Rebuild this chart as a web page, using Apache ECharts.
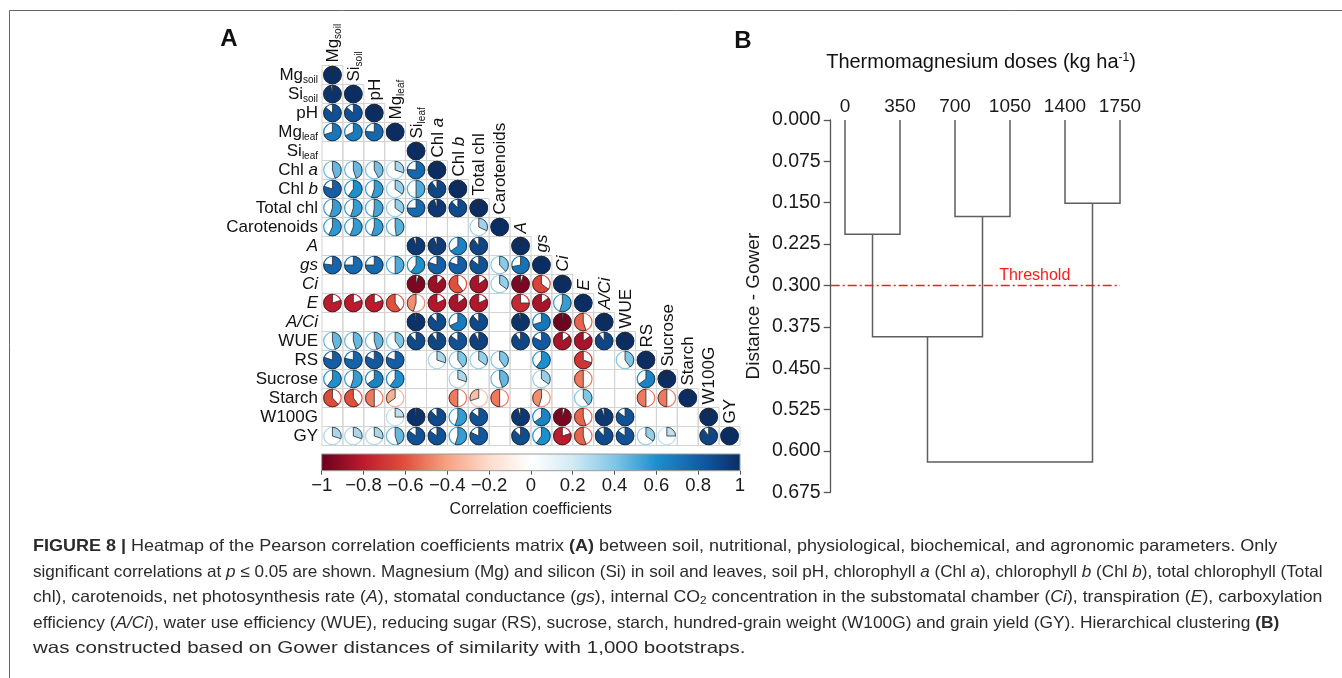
<!DOCTYPE html>
<html>
<head>
<meta charset="utf-8">
<script src="https://cdn.jsdelivr.net/npm/echarts@6/dist/echarts.min.js"></script>
<style>
  html, body { margin: 0; padding: 0; background: #ffffff; }
  #chart { width: 1342px; height: 678px; }
</style>
</head>
<body>
<div id="chart"></div>
<script>
// ---- Panel A: variables of the correlation matrix ----
const varNames = ['Mg_soil', 'Si_soil', 'pH', 'Mg_leaf', 'Si_leaf', 'Chl a', 'Chl b', 'Total chl',
  'Carotenoids', 'A', 'gs', 'Ci', 'E', 'A/Ci', 'WUE', 'RS', 'Sucrose', 'Starch', 'W100G', 'GY'];

// rich-text versions of the names (subscripts / italics)
const varLabels = ['{n|Mg}{s|soil}', '{n|Si}{s|soil}', '{n|pH}', '{n|Mg}{s|leaf}', '{n|Si}{s|leaf}',
  '{n|Chl }{i|a}', '{n|Chl }{i|b}', '{n|Total chl}', '{n|Carotenoids}', '{i|A}', '{i|gs}', '{i|Ci}',
  '{i|E}', '{i|A/Ci}', '{n|WUE}', '{n|RS}', '{n|Sucrose}', '{n|Starch}', '{n|W100G}', '{n|GY}'];

// Pearson r, lower triangle row by row (null = not significant at p <= 0.05)
const corrMgSoil   = [1];
const corrSiSoil   = [0.97, 1];
const corrPH       = [0.86, 0.86, 1];
const corrMgLeaf   = [0.70, 0.68, 0.76, 1];
const corrSiLeaf   = [null, null, null, null, 1];
const corrChlA     = [0.45, 0.45, 0.42, 0.30, 0.76, 1];
const corrChlB     = [0.80, 0.60, 0.55, 0.35, 0.50, 0.90, 1];
const corrTotalChl = [0.55, 0.55, 0.52, 0.35, 0.75, 0.95, 0.88, 1];
const corrCarot    = [0.57, 0.56, 0.55, 0.48, null, null, null, 0.32, 1];
const corrA        = [null, null, null, null, 0.95, 0.94, 0.65, 0.90, null, 1];
const corrGs       = [0.77, 0.75, 0.75, 0.50, 0.60, 0.80, 0.80, 0.85, 0.38, 0.72, 1];
const corrCi       = [null, null, null, null, -0.95, -0.88, -0.60, -0.85, 0.35, -0.95, -0.65, 1];
const corrE        = [-0.80, -0.80, -0.80, -0.60, -0.45, -0.82, -0.85, -0.82, null, -0.75, -0.85, 0.55, 1];
const corrACi      = [null, null, null, null, 0.98, 0.88, 0.68, 0.88, null, 0.97, 0.70, -0.98, -0.55, 1];
const corrWUE      = [0.45, 0.45, 0.45, 0.40, 0.88, 0.90, 0.85, 0.92, null, 0.90, 0.82, -0.85, -0.85, 0.90, 1];
const corrRS       = [0.80, 0.78, 0.82, 0.80, null, 0.30, 0.40, 0.35, 0.40, null, 0.60, null, -0.70, null, 0.40, 1];
const corrSucrose  = [0.60, 0.55, 0.65, 0.60, null, null, 0.30, null, 0.45, null, 0.35, null, -0.50, null, null, 0.65, 1];
const corrStarch   = [-0.62, -0.60, -0.50, -0.35, null, null, -0.50, -0.30, -0.50, null, -0.45, null, 0.40, null, null, -0.50, -0.50, 1];
const corrW100G    = [null, null, null, 0.25, 0.98, 0.88, 0.55, 0.85, null, 0.95, 0.65, -0.95, -0.55, 0.95, 0.85, null, null, null, 1];
const corrGY       = [0.30, 0.30, 0.30, 0.45, 0.85, 0.85, 0.55, 0.82, null, 0.87, 0.60, -0.80, -0.55, 0.88, 0.85, 0.35, 0.25, null, 0.90, 1];

const corrRows = [corrMgSoil, corrSiSoil, corrPH, corrMgLeaf, corrSiLeaf, corrChlA, corrChlB, corrTotalChl,
  corrCarot, corrA, corrGs, corrCi, corrE, corrACi, corrWUE, corrRS, corrSucrose, corrStarch, corrW100G, corrGY];

// diverging palette, -1 .. 1
const palette = ['#67001f', '#bd1a2d', '#e1503d', '#f6a283', '#fddccb', '#ffffff',
  '#d2eaf4', '#80c6e6', '#1d8fcc', '#135ea7', '#0a2d63'];

// ---- Panel B: hierarchical clustering of doses ----
const doseLabels = ['0', '350', '700', '1050', '1400', '1750'];
// merge steps: negative = leaf (1-based), positive = earlier merge step (1-based)
const mergeLeft   = [-5, -3, -1, 3, 4];
const mergeRight  = [-6, -4, -2, 2, 1];
const mergeHeight = [0.151, 0.175, 0.207, 0.393, 0.620];
const threshold = 0.3;

// ---- derived data ----
const gridCells = [];
const pieCells = [];
corrRows.forEach(function (row, r) {
  row.forEach(function (v, c) {
    gridCells.push([c, r]);
    if (v !== null) pieCells.push([c, r, v]);
  });
});
const diagCells = varNames.map(function (_, i) { return [i, i]; });

const nodeX = [], nodeH = [];
function childX(id) { return id < 0 ? (-id - 1) : nodeX[id - 1]; }
function childH(id) { return id < 0 ? 0 : nodeH[id - 1]; }
mergeLeft.forEach(function (a, k) {
  nodeX.push((childX(a) + childX(mergeRight[k])) / 2);
  nodeH.push(mergeHeight[k]);
});

const FONT = '"Liberation Sans", Arial, Helvetica, sans-serif';
const labelRich = {
  n: { fontSize: 17, fontFamily: FONT, color: '#111', lineHeight: 20 },
  i: { fontSize: 17, fontFamily: FONT, color: '#111', fontStyle: 'italic', lineHeight: 20 },
  s: { fontSize: 10, fontFamily: FONT, color: '#111', verticalAlign: 'bottom', lineHeight: 8 }
};

const chart = echarts.init(document.getElementById('chart'));

// ---- figure caption ----
const captionRich = {
  b: { fontWeight: 'bold', fontSize: 16.5, fontFamily: FONT, color: '#2b2b2b' },
  i: { fontStyle: 'italic', fontSize: 16.5, fontFamily: FONT, color: '#2b2b2b' },
  sub: { fontSize: 11, fontFamily: FONT, color: '#2b2b2b', verticalAlign: 'bottom', lineHeight: 10 }
};
const captionLines = [
  '{b|FIGURE 8 |} Heatmap of the Pearson correlation coefficients matrix {b|(A)} between soil, nutritional, physiological, biochemical, and agronomic parameters. Only',
  'significant correlations at {i|p} ≤ 0.05 are shown. Magnesium (Mg) and silicon (Si) in soil and leaves, soil pH, chlorophyll {i|a} (Chl {i|a}), chlorophyll {i|b} (Chl {i|b}), total chlorophyll (Total',
  'chl), carotenoids, net photosynthesis rate ({i|A}), stomatal conductance ({i|gs}), internal CO{sub|2} concentration in the substomatal chamber ({i|Ci}), transpiration ({i|E}), carboxylation',
  'efficiency ({i|A/Ci}), water use efficiency (WUE), reducing sugar (RS), sucrose, starch, hundred-grain weight (W100G) and grain yield (GY). Hierarchical clustering {b|(B)}',
  'was constructed based on Gower distances of similarity with 1,000 bootstraps.'
];
const captionY = [546.5, 572, 597.5, 623, 648.5];
const captionStretch = [1.091, 1.037, 1.071, 1.050, 1.245];

const graphics = [
  { type: 'line', shape: { x1: 9.5, y1: 10.5, x2: 1342, y2: 10.5 }, style: { stroke: '#666', lineWidth: 1 } },
  { type: 'line', shape: { x1: 9.5, y1: 10.5, x2: 9.5, y2: 678 }, style: { stroke: '#666', lineWidth: 1 } },
  { type: 'text', x: 229, y: 39, style: { text: 'A', font: 'bold 24px ' + FONT, fill: '#111', align: 'center', verticalAlign: 'middle' } },
  { type: 'text', x: 743, y: 41, style: { text: 'B', font: 'bold 24px ' + FONT, fill: '#111', align: 'center', verticalAlign: 'middle' } },
  { type: 'text', x: 981, y: 62, style: {
      text: 'Thermomagnesium doses (kg ha{sup|-1})', font: '20px ' + FONT, fill: '#111',
      align: 'center', verticalAlign: 'middle',
      rich: { sup: { fontSize: 12, fontFamily: FONT, color: '#111', verticalAlign: 'top', lineHeight: 10 } }
  } }
];
captionLines.forEach(function (t, k) {
  graphics.push({ type: 'text', x: 33, y: captionY[k], scaleX: captionStretch[k], style: {
    text: t, font: '16.5px ' + FONT, fill: '#2b2b2b', align: 'left', verticalAlign: 'middle', rich: captionRich
  } });
});

const option = {
  animation: false,
  backgroundColor: '#ffffff',
  grid: [
    { left: 322, top: 65.5, width: 418, height: 380 },
    { left: 830.7, top: 120, width: 316.8, height: 372.3 },
    { left: 321.7, top: 454, width: 418.3, height: 16.7 }
  ],
  xAxis: [
    { type: 'category', gridIndex: 0, data: varNames, axisLine: { show: false }, axisTick: { show: false }, axisLabel: { show: false }, splitLine: { show: false } },
    { type: 'value', gridIndex: 1, min: -0.26, max: 5.5, show: false },
    { type: 'value', gridIndex: 2, min: -1, max: 1, interval: 0.2, position: 'bottom',
      axisLine: { show: false }, splitLine: { show: false },
      axisTick: { show: true, length: 4, lineStyle: { color: '#555', width: 1 } },
      axisLabel: { fontSize: 18.5, fontFamily: FONT, color: '#1a1a1a', margin: 6,
        formatter: function (v) { const x = parseFloat(v.toFixed(1)); return x < 0 ? '\u2212' + Math.abs(x) : String(x); } },
      name: 'Correlation coefficients', nameLocation: 'middle', nameGap: 31,
      nameTextStyle: { fontSize: 16, fontFamily: FONT, color: '#1a1a1a' } }
  ],
  yAxis: [
    { type: 'category', gridIndex: 0, data: varNames, inverse: true, axisLine: { show: false }, axisTick: { show: false }, splitLine: { show: false },
      axisLabel: { margin: 4, formatter: function (v, i) { return varLabels[i]; }, rich: labelRich } },
    { type: 'value', gridIndex: 1, inverse: true, min: 0, max: 0.675, interval: 0.075,
      axisLine: { show: true, onZero: false, lineStyle: { color: '#555', width: 1.3 } },
      axisTick: { show: true, length: 7, lineStyle: { color: '#555', width: 1.3 } },
      splitLine: { show: false },
      axisLabel: { fontSize: 19.5, fontFamily: FONT, color: '#1a1a1a', margin: 10, formatter: function (v) { return v.toFixed(3); } },
      name: 'Distance - Gower', nameLocation: 'middle', nameGap: 67, nameRotate: 90,
      nameTextStyle: { fontSize: 19, fontFamily: FONT, color: '#1a1a1a' } },
    { type: 'value', gridIndex: 2, min: 0, max: 1, show: false }
  ],
  visualMap: [{
    type: 'continuous', show: false, min: -1, max: 1, dimension: 2, seriesIndex: 1,
    inRange: { color: palette }
  }],
  graphic: graphics,
  series: [
    // cell borders of the lower triangle
    { type: 'custom', xAxisIndex: 0, yAxisIndex: 0, data: gridCells, silent: true,
      renderItem: function (params, api) {
        const c = api.coord([api.value(0), api.value(1)]);
        const s = api.size([1, 1]);
        return { type: 'rect', shape: { x: c[0] - s[0] / 2, y: c[1] - s[1] / 2, width: s[0], height: s[1] },
          style: { fill: 'none', stroke: '#d3d3d3', lineWidth: 1 } };
      } },
    // pies: filled fraction = |r|, clockwise for positive, anticlockwise for negative
    { type: 'custom', xAxisIndex: 0, yAxisIndex: 0, data: pieCells, silent: true,
      renderItem: function (params, api) {
        const v = api.value(2);
        const c = api.coord([api.value(0), api.value(1)]);
        const s = api.size([1, 1]);
        const r = Math.min(s[0], s[1]) * 0.46;
        const color = api.visual('color');
        const start = -Math.PI / 2;
        const end = start + (v >= 0 ? 1 : -1) * 2 * Math.PI * Math.min(Math.abs(v), 0.9999);
        return { type: 'group', children: [
          { type: 'circle', shape: { cx: c[0], cy: c[1], r: r }, style: { fill: '#ffffff', stroke: color, lineWidth: 1.2 } },
          { type: 'sector', shape: { cx: c[0], cy: c[1], r: r, r0: 0, startAngle: start, endAngle: end, clockwise: v >= 0 },
            style: { fill: color, stroke: '#2a2a2a', lineWidth: 0.8 } }
        ] };
      } },
    // column names above the diagonal
    { type: 'custom', xAxisIndex: 0, yAxisIndex: 0, data: diagCells, silent: true,
      renderItem: function (params, api) {
        const c = api.coord([api.value(0), api.value(1)]);
        const s = api.size([1, 1]);
        return { type: 'text', x: c[0] + 1, y: c[1] - s[1] / 2 - 3, rotation: Math.PI / 2,
          style: { text: varLabels[params.dataIndex], rich: labelRich, font: '17px ' + FONT, fill: '#111',
            align: 'left', verticalAlign: 'middle' } };
      } },
    // dendrogram links
    { type: 'custom', xAxisIndex: 1, yAxisIndex: 1, data: mergeHeight.map(function (h, k) { return [k, h]; }), silent: true,
      renderItem: function (params, api) {
        const k = params.dataIndex;
        const a = mergeLeft[k], b = mergeRight[k], h = mergeHeight[k];
        const pts = [
          api.coord([childX(a), childH(a)]), api.coord([childX(a), h]),
          api.coord([childX(b), h]), api.coord([childX(b), childH(b)])
        ];
        return { type: 'polyline', shape: { points: pts }, style: { fill: 'none', stroke: '#5e5e5e', lineWidth: 1.5 } };
      } },
    // dose labels above the leaves
    { type: 'custom', xAxisIndex: 1, yAxisIndex: 1, data: doseLabels.map(function (d, i) { return [i, 0]; }), silent: true,
      renderItem: function (params, api) {
        const c = api.coord([api.value(0), 0]);
        return { type: 'text', x: c[0], y: c[1] - 13,
          style: { text: doseLabels[params.dataIndex], font: '19px ' + FONT, fill: '#1a1a1a', align: 'center', verticalAlign: 'middle' } };
      } },
    // cut threshold
    { type: 'custom', xAxisIndex: 1, yAxisIndex: 1, data: [[threshold]], silent: true,
      renderItem: function (params, api) {
        const h = api.value(0);
        const p0 = api.coord([-0.26, h]);
        const p1 = api.coord([doseLabels.length - 1, h]);
        const pl = api.coord([3.45, h]);
        return { type: 'group', children: [
          { type: 'line', shape: { x1: p0[0], y1: p0[1], x2: p1[0], y2: p1[1] },
            style: { stroke: '#ff1a1a', lineWidth: 1.6, lineDash: [9, 3, 2, 3] } },
          { type: 'text', x: pl[0], y: pl[1] - 10,
            style: { text: 'Threshold', font: '16px ' + FONT, fill: '#ff1a1a', align: 'center', verticalAlign: 'middle' } }
        ] };
      } },
    // colour bar
    { type: 'custom', xAxisIndex: 2, yAxisIndex: 2, data: [[-1, 1]], silent: true,
      renderItem: function (params, api) {
        const p0 = api.coord([api.value(0), 1]);
        const p1 = api.coord([api.value(1), 0]);
        const stops = palette.map(function (col, i) { return { offset: i / (palette.length - 1), color: col }; });
        return { type: 'rect', shape: { x: p0[0], y: p0[1], width: p1[0] - p0[0], height: p1[1] - p0[1] },
          style: { fill: new echarts.graphic.LinearGradient(0, 0, 1, 0, stops), stroke: '#9a9a9a', lineWidth: 1 } };
      } }
  ]
};
chart.setOption(option);
</script>
</body>
</html>
